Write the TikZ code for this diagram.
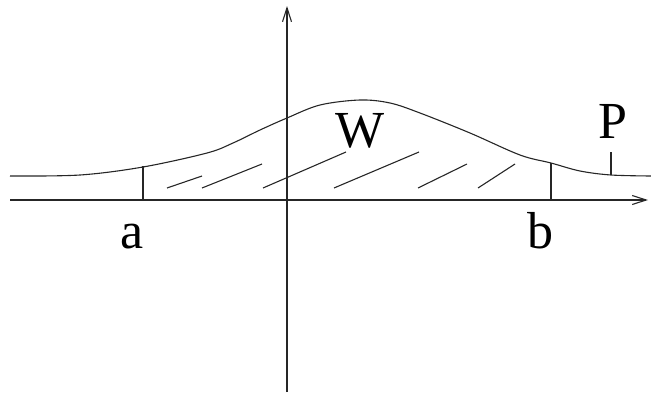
\documentclass[tikz,border=0pt]{standalone}
\usepackage{fontspec}
\setmainfont{Liberation Serif}
\usetikzlibrary{arrows.meta}
\begin{document}
\begin{tikzpicture}[x=1pt,y=-1pt,
  ln/.style={line width=1.1pt,black!85},
  tip/.style={-{Straight Barb[length=14pt,width=9pt,line width=1.1pt]}},
  lbl/.style={font=\fontsize{52}{52}\selectfont,inner sep=0pt,anchor=base}]
\useasboundingbox (0,0) rectangle (651,394);
% axes
\coordinate (xs) at (10,200); \coordinate (xe) at (648,200);
\coordinate (ys) at (287,392); \coordinate (ye) at (287,6);
\draw[ln,tip] (xs) -- (xe);
\draw[ln,tip] (ys) -- (ye);
% curve
\draw[ln] plot[smooth,tension=0.55] coordinates {(10,176) (80,175) (143,167) (207,153) (233,143) (260,130) (287,118) (320,105) (360,100) (390,103) (420,113) (470,133) (520,155) (551,163) (580,171) (611,175) (651,176)};
% verticals
\coordinate (a0) at (143,200); \coordinate (a1) at (143,166);
\coordinate (b0) at (551,200); \coordinate (b1) at (551,163);
\coordinate (p0) at (611,175); \coordinate (p1) at (611,152);
\draw[ln] (a0) -- (a1);
\draw[ln] (b0) -- (b1);
\draw[ln] (p0) -- (p1);
% hatches
\draw[ln] (167,188) -- (202,176);
\draw[ln] (202,188) -- (262,164);
\draw[ln] (263,188) -- (346,152);
\draw[ln] (334,188) -- (419,152);
\draw[ln] (418,188) -- (467,164);
\draw[ln] (478,188) -- (515,164);
% labels
\node[lbl] (a) at (132,248) {a};
\node[lbl] (b) at (540,248) {b};
\node[lbl] (W) at (360,147) {W};
\node[lbl] (P) at (613,138) {P};
\end{tikzpicture}
\end{document}
